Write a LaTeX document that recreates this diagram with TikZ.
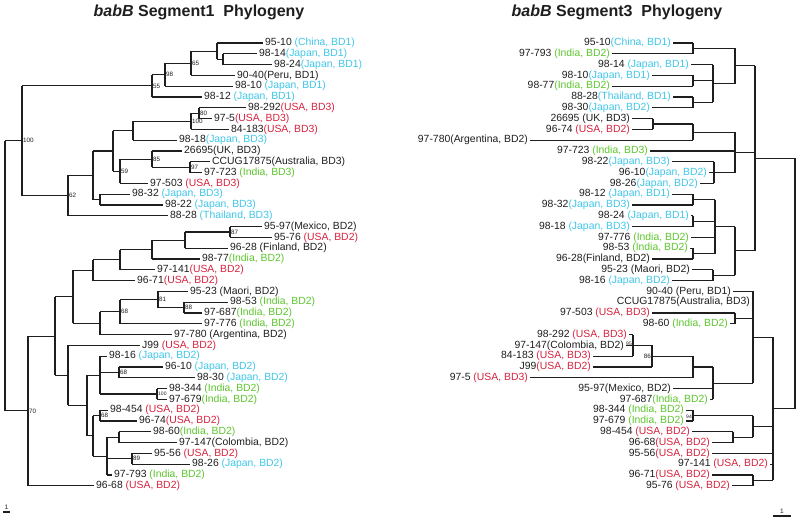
\documentclass[tikz,border=0pt]{standalone}
\usepackage{fontspec}
\setmainfont{Liberation Sans}
\usetikzlibrary{calc}
\definecolor{ink}{RGB}{30,30,30}
\definecolor{cJap}{RGB}{62,198,232}
\definecolor{cUsa}{RGB}{214,34,62}
\definecolor{cInd}{RGB}{92,198,44}
\tikzset{
  br/.style={draw=ink,line width=1.05pt},
  leaf/.style={anchor=west,inner xsep=2pt,inner ysep=0.5pt,text=ink,
    font=\fontsize{10.4}{11}\selectfont},
  rleaf/.style={leaf,anchor=east},
  bs/.style={anchor=west,inner sep=1pt,text=ink,font=\fontsize{6.3}{7}\selectfont},
  rbs/.style={bs,anchor=east},
  sbl/.style={above,inner sep=1.5pt,text=ink,font=\fontsize{6.5}{7}\selectfont},
  ttl/.style={text=ink,font=\fontsize{16}{18}\selectfont\bfseries},
}
\newcommand{\jpn}[1]{\textcolor{cJap}{#1}}
\newcommand{\usa}[1]{\textcolor{cUsa}{#1}}
\newcommand{\inda}[1]{\textcolor{cInd}{#1}}
% clade: name, x, first child, last child
\newcommand{\tclade}[4]{%
  \path let \p1=(#3), \p2=(#4) in ({#2pt},{0.5*\y1+0.5*\y2}) coordinate (#1);
  \draw[br] (#1 |- #3) -- (#1 |- #4);
  \draw[br] (#1 |- #3) -- (#3);
  \draw[br] (#1 |- #4) -- (#4);}
% extra (middle) child of a clade
\newcommand{\tkid}[2]{\draw[br] (#1 |- #2) -- (#2);}

\begin{document}
\begin{tikzpicture}[x=1pt,y=-1pt]
  \useasboundingbox (0,0) rectangle (800,523);

  % titles
  \node[ttl] (tA) at (199,12) {\textit{babB} Segment1~~Phylogeny};
  \node[ttl] (tB) at (617,12) {\textit{babB} Segment3~~Phylogeny};

  % ---- segment 1 : leaves
  \node[leaf] (a9510) at (263,43.0) {95-10 \jpn{(China, BD1)}};
  \node[leaf] (a9814) at (257,53.8) {98-14\jpn{(Japan, BD1)}};
  \node[leaf] (a9824) at (272,64.6) {98-24\jpn{(Japan, BD1)}};
  \node[leaf] (a9040) at (235,75.4) {90-40(Peru, BD1)};
  \node[leaf] (a9810) at (233,86.2) {98-10 \jpn{(Japan, BD1)}};
  \node[leaf] (a9812) at (202,97.0) {98-12 \jpn{(Japan, BD1)}};
  \node[leaf] (a98292) at (246,107.8) {98-292\usa{(USA, BD3)}};
  \node[leaf] (a975) at (212,118.6) {97-5\usa{(USA, BD3)}};
  \node[leaf] (a84183) at (229,129.4) {84-183\usa{(USA, BD3)}};
  \node[leaf] (a9818) at (177,140.2) {98-18\jpn{(Japan, BD3)}};
  \node[leaf] (a26695) at (182,151.0) {26695(UK, BD3)};
  \node[leaf] (aCCUG) at (210,161.8) {CCUG17875(Australia, BD3)};
  \node[leaf] (a97723) at (202,172.6) {97-723 \inda{(India, BD3)}};
  \node[leaf] (a97503) at (148,183.4) {97-503 \usa{(USA, BD3)}};
  \node[leaf] (a9832) at (130,194.2) {98-32 \jpn{(Japan, BD3)}};
  \node[leaf] (a9822) at (163,205.0) {98-22 \jpn{(Japan, BD3)}};
  \node[leaf] (a8828) at (168,215.8) {88-28 \jpn{(Thailand, BD3)}};
  \node[leaf] (a9597) at (262,226.6) {95-97(Mexico, BD2)};
  \node[leaf] (a9576) at (272,237.4) {95-76 \usa{(USA, BD2)}};
  \node[leaf] (a9628) at (228,248.2) {96-28 (Finland, BD2)};
  \node[leaf] (a9877) at (200,259.0) {98-77\inda{(India, BD2)}};
  \node[leaf] (a97141) at (155,269.8) {97-141\usa{(USA, BD2)}};
  \node[leaf] (a9671) at (135,280.6) {96-71\usa{(USA, BD2)}};
  \node[leaf] (a9523) at (188,291.4) {95-23 (Maori, BD2)};
  \node[leaf] (a9853) at (228,302.2) {98-53 \inda{(India, BD2)}};
  \node[leaf] (a97687) at (202,313.0) {97-687\inda{(India, BD2)}};
  \node[leaf] (a97776) at (202,323.8) {97-776 \inda{(India, BD2)}};
  \node[leaf] (a97780) at (172,334.6) {97-780 (Argentina, BD2)};
  \node[leaf] (aJ99) at (140,345.4) {J99 \usa{(USA, BD2)}};
  \node[leaf] (a9816) at (107,356.2) {98-16 \jpn{(Japan, BD2)}};
  \node[leaf] (a9610) at (163,367.0) {96-10 \jpn{(Japan, BD2)}};
  \node[leaf] (a9830) at (195,377.8) {98-30 \jpn{(Japan, BD2)}};
  \node[leaf] (a98344) at (167,388.6) {98-344 \inda{(India, BD2)}};
  \node[leaf] (a97679) at (167,399.4) {97-679\inda{(India, BD2)}};
  \node[leaf] (a98454) at (108,410.2) {98-454 \usa{(USA, BD2)}};
  \node[leaf] (a9674) at (137,421.0) {96-74\usa{(USA, BD2)}};
  \node[leaf] (a9860) at (151,431.8) {98-60\inda{(India, BD2)}};
  \node[leaf] (a97147) at (177,442.6) {97-147(Colombia, BD2)};
  \node[leaf] (a9556) at (152,453.4) {95-56 \usa{(USA, BD2)}};
  \node[leaf] (a9826) at (190,464.2) {98-26 \jpn{(Japan, BD2)}};
  \node[leaf] (a97793) at (112,475.0) {97-793 \inda{(India, BD2)}};
  \node[leaf] (a9668) at (94,485.8) {96-68 \usa{(USA, BD2)}};

  % ---- segment 1 : clades
  \tclade{nA223}{223}{a9814}{a9824}
  \tclade{nA217}{217}{a9510}{nA223}
  \tclade{nA191}{191}{nA217}{a9040}
  \tclade{nA165}{165}{nA191}{a9810}
  \tclade{nA152}{152}{nA165}{a9812}
  \tclade{nA199}{199}{a98292}{a975}
  \tclade{nA191b}{191}{nA199}{a84183}
  \tclade{nA133}{133}{nA191b}{a9818}
  \tclade{nA190}{190}{aCCUG}{a97723}
  \tclade{nA152b}{152}{a26695}{nA190}
  \tclade{nA120}{120}{nA152b}{a97503}
  \tclade{nA113}{113}{nA133}{nA120}
  \tclade{nA100}{100}{a9832}{a9822}
  \tclade{nA93}{93}{nA113}{nA100}
  \tclade{nA68}{68}{nA93}{a8828}
  \tclade{nA22}{22}{nA152}{nA68}
  \tclade{nA230}{230}{a9597}{a9576}
  \tclade{nA185}{185}{nA230}{a9628}
  \tclade{nA152c}{152}{nA185}{a9877}
  \tclade{nA120b}{120}{nA152c}{a97141}
  \tclade{nA93b}{93}{nA120b}{a9671}
  \tclade{nA184}{184}{a9853}{a97687}
  \tclade{nA158}{158}{a9523}{nA184}
  \tclade{nA120c}{120}{nA158}{a97776}
  \tclade{nA100b}{100}{nA120c}{a97780}
  \tclade{nA73}{73}{nA93b}{nA100b}
  \tclade{nA157}{157}{a98344}{a97679}
  \tclade{nA119}{119}{a9610}{a9830}
  \tclade{nA100c}{100}{a9816}{nA157} \tkid{nA100c}{nA119}
  \tclade{nA100d}{100}{a98454}{a9674}
  \tclade{nA119b}{119}{a9860}{a97147}
  \tclade{nA132}{132}{a9556}{a9826}
  \tclade{nA107}{107}{nA119b}{a97793} \tkid{nA107}{nA132}
  \tclade{nA93c}{93}{nA100d}{nA107}
  \tclade{nA87}{87}{nA100c}{nA93c}
  \tclade{nA68b}{68}{aJ99}{nA87}
  \tclade{nA55}{55}{nA73}{nA68b}
  \tclade{nA28}{28}{nA55}{a9668}
  \tclade{nA5}{5}{nA22}{nA28}

  % bootstrap values
  \node[bs] (bA191) at (nA191) {65};
  \node[bs] (bA165) at (nA165) {98};
  \node[bs] (bA152) at (nA152) {55};
  \node[bs] (bA199) at (nA199) {80};
  \node[bs] (bA191b) at (nA191b) {100};
  \node[bs] (bA190) at (nA190) {97};
  \node[bs] (bA152b) at (nA152b) {85};
  \node[bs] (bA120) at (nA120) {59};
  \node[bs] (bA68) at (nA68) {62};
  \node[bs] (bA22) at (nA22) {100};
  \node[bs] (bA230) at (nA230) {87};
  \node[bs] (bA184) at (nA184) {88};
  \node[bs] (bA158) at (nA158) {81};
  \node[bs] (bA120c) at (nA120c) {68};
  \node[bs,font=\fontsize{5}{6}\selectfont] (bA157) at (nA157) {100};
  \node[bs] (bA119) at (nA119) {68};
  \node[bs] (bA100d) at (nA100d) {68};
  \node[bs] (bA132) at (nA132) {89};
  \node[bs] (bA28) at (nA28) {70};

  % ---- segment 3 : leaves
  \node[rleaf] (b9510) at (673,43.0) {95-10\jpn{(China, BD1)}};
  \node[rleaf] (b97793) at (612,53.8) {97-793 \inda{(India, BD2)}};
  \node[rleaf] (b9814) at (691,64.6) {98-14 \jpn{(Japan, BD1)}};
  \node[rleaf] (b9810) at (652,75.4) {98-10\jpn{(Japan, BD1)}};
  \node[rleaf] (b9877) at (612,86.2) {98-77\inda{(India, BD2)}};
  \node[rleaf] (b8828) at (673,97.0) {88-28\jpn{(Thailand, BD1)}};
  \node[rleaf] (b9830) at (652,107.8) {98-30\jpn{(Japan, BD2)}};
  \node[rleaf] (b26695) at (632,118.6) {26695 (UK, BD3)};
  \node[rleaf] (b9674) at (632,129.4) {96-74 \usa{(USA, BD2)}};
  \node[rleaf] (b97780) at (530,140.2) {97-780(Argentina, BD2)};
  \node[rleaf] (b97723) at (650,151.0) {97-723 \inda{(India, BD3)}};
  \node[rleaf] (b9822) at (672,161.8) {98-22\jpn{(Japan, BD3)}};
  \node[rleaf] (b9610) at (709,172.6) {96-10\jpn{(Japan, BD2)}};
  \node[rleaf] (b9826) at (700,183.4) {98-26\jpn{(Japan, BD2)}};
  \node[rleaf] (b9812) at (672,194.2) {98-12 \jpn{(Japan, BD1)}};
  \node[rleaf] (b9832) at (632,205.0) {98-32\jpn{(Japan, BD3)}};
  \node[rleaf] (b9824) at (691,215.8) {98-24 \jpn{(Japan, BD1)}};
  \node[rleaf] (b9818) at (632,226.6) {98-18 \jpn{(Japan, BD3)}};
  \node[rleaf] (b97776) at (691,237.4) {97-776 \inda{(India, BD2)}};
  \node[rleaf] (b9853) at (690,248.2) {98-53 \inda{(India, BD2)}};
  \node[rleaf] (b9628) at (652,259.0) {96-28(Finland, BD2)};
  \node[rleaf] (b9523) at (692,269.8) {95-23 (Maori, BD2)};
  \node[rleaf] (b9816) at (672,280.6) {98-16 \jpn{(Japan, BD2)}};
  \node[rleaf] (b9040) at (733,291.4) {90-40 (Peru, BD1)};
  \node[rleaf] (bCCUG) at (752,302.2) {CCUG17875(Australia, BD3)};
  \node[rleaf] (b97503) at (652,313.0) {97-503 \usa{(USA, BD3)}};
  \node[rleaf] (b9860) at (730,323.8) {98-60 \inda{(India, BD2)}};
  \node[rleaf] (b98292) at (629,334.6) {98-292 \usa{(USA, BD3)}};
  \node[rleaf] (b97147) at (626,345.4) {97-147(Colombia, BD2)};
  \node[rleaf] (b84183) at (593,356.2) {84-183 \usa{(USA, BD3)}};
  \node[rleaf] (bJ99) at (593,367.0) {J99\usa{(USA, BD2)}};
  \node[rleaf] (b975) at (530,377.8) {97-5 \usa{(USA, BD3)}};
  \node[rleaf] (b9597) at (673,388.6) {95-97(Mexico, BD2)};
  \node[rleaf] (b97687) at (710,399.4) {97-687\inda{(India, BD2)}};
  \node[rleaf] (b98344) at (686,410.2) {98-344 \inda{(India, BD2)}};
  \node[rleaf] (b97679) at (686,421.0) {97-679 \inda{(India, BD2)}};
  \node[rleaf] (b98454) at (692,431.8) {98-454 \usa{(USA, BD2)}};
  \node[rleaf] (b9668) at (712,442.6) {96-68\usa{(USA, BD2)}};
  \node[rleaf] (b9556) at (712,453.4) {95-56\usa{(USA, BD2)}};
  \node[rleaf] (b97141) at (770,464.2) {97-141 \usa{(USA, BD2)}};
  \node[rleaf] (b9671) at (712,475.0) {96-71\usa{(USA, BD2)}};
  \node[rleaf] (b9576) at (732,485.8) {95-76 \usa{(USA, BD2)}};

  % ---- segment 3 : clades
  \tclade{nB693a}{693}{b9510}{b97793}
  \tclade{nB693b}{693}{b9810}{b9877}
  \tclade{nB693c}{693}{b8828}{b9830}
  \tclade{nB713a}{713}{b9814}{nB693c} \tkid{nB713a}{nB693b}
  \tclade{nB735a}{735}{nB693a}{nB713a}
  \tclade{nB653}{653}{b26695}{b9674}
  \tclade{nB693d}{693}{nB653}{b97780}
  \tclade{nB714}{714}{b9822}{b9826} \tkid{nB714}{b9610}
  \tclade{nB735b}{735}{nB693d}{nB714} \tkid{nB735b}{b97723}
  \tclade{nB693f}{693}{b9812}{b9832}
  \tclade{nB693g}{693}{b9824}{b9818}
  \tclade{nB693h}{693}{b9853}{b9628}
  \tclade{nB715}{715}{nB693f}{nB693h} \tkid{nB715}{nB693g} \tkid{nB715}{b97776}
  \tclade{nB713d}{713}{b9523}{b9816}
  \tclade{nB735c}{735}{nB715}{nB713d}
  \tclade{nB755}{755}{nB735a}{nB735c} \tkid{nB755}{nB735b}
  \tclade{nB735d}{735}{b97503}{b9860}
  \tclade{nB633}{633}{b98292}{b84183} \tkid{nB633}{b97147}
  \tclade{nB652}{652}{nB633}{bJ99}
  \tclade{nB693e}{693}{nB652}{b975}
  \tclade{nB713e}{713}{nB693e}{b97687} \tkid{nB713e}{b9597}
  \tclade{nB753}{753}{b9040}{nB713e} \tkid{nB753}{bCCUG} \tkid{nB753}{nB735d}
  \tclade{nB693i}{693}{b98344}{b97679}
  \tclade{nB733}{733}{b98454}{b9668}
  \tclade{nB753b}{753}{nB693i}{nB733}
  \tclade{nB753c}{753}{b9671}{b9576}
  \tclade{nB773}{773}{nB753}{nB753c}
  \tkid{nB773}{nB753b} \tkid{nB773}{b9556} \tkid{nB773}{b97141}
  \tclade{nB795}{795}{nB755}{nB773}

  % bootstrap values
  \node[rbs,yshift=2pt,font=\fontsize{5}{6}\selectfont] (bB633) at (nB633) {95};
  \node[rbs] (bB652) at (nB652) {86};
  \node[rbs,yshift=-1pt,font=\fontsize{5}{6}\selectfont] (bB693i) at (nB693i) {94};

  % scale bars
  \coordinate (sA1) at (3,512);
  \coordinate (sA2) at (10,512);
  \draw[br] (sA1) -- node[sbl] (sAl) {1} (sA2);
  \coordinate (sB1) at (773,516);
  \coordinate (sB2) at (791,516);
  \draw[br] (sB1) -- node[sbl] (sBl) {1} (sB2);
\end{tikzpicture}
\end{document}
